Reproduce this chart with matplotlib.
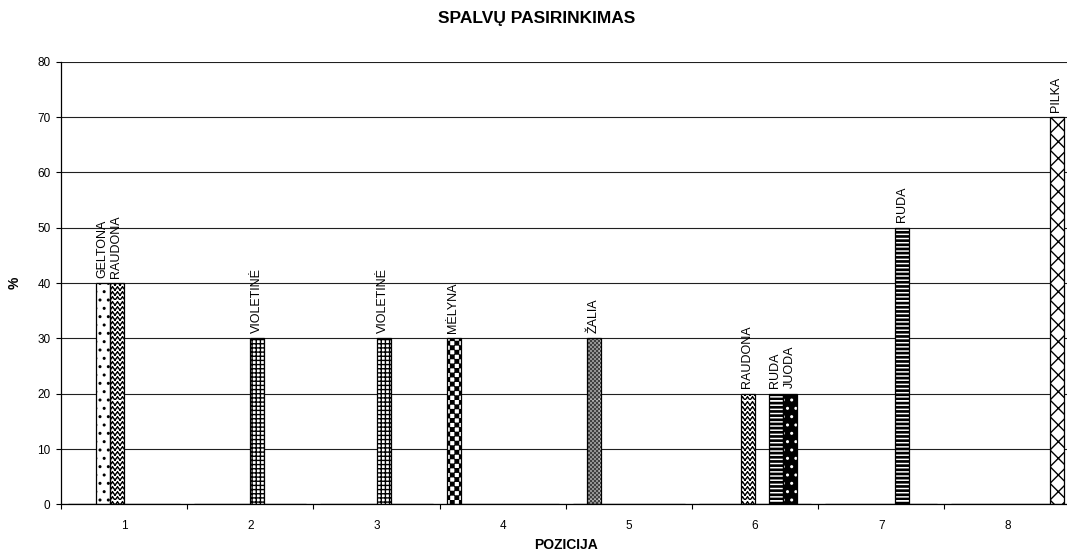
import warnings
import numpy as np
import matplotlib
matplotlib.use("Agg")
import matplotlib.pyplot as plt
import matplotlib.hatch as mhatch
from matplotlib.path import Path

warnings.filterwarnings("ignore")

# ---------------- data ----------------
categories = ["1", "2", "3", "4", "5", "6", "7", "8"]
series_names = ["MĖLYNA", "ŽALIA", "GELTONA", "RAUDONA", "VIOLETINĖ", "RUDA", "JUODA", "PILKA"]
melyna    = [0, 0, 0, 30, 0, 0, 0, 0]
zalia     = [0, 0, 0, 0, 30, 0, 0, 0]
geltona   = [40, 0, 0, 0, 0, 0, 0, 0]
raudona   = [40, 0, 0, 0, 0, 20, 0, 0]
violetine = [0, 30, 30, 0, 0, 0, 0, 0]
ruda      = [0, 0, 0, 0, 0, 20, 50, 0]
juoda     = [0, 0, 0, 0, 0, 20, 0, 0]
pilka     = [0, 0, 0, 0, 0, 0, 0, 70]
series_values = [melyna, zalia, geltona, raudona, violetine, ruda, juoda, pilka]
y_ticks = [0, 10, 20, 30, 40, 50, 60, 70, 80]

title = "SPALVŲ PASIRINKIMAS"
xlabel = "POZICIJA"
ylabel = "%"


# ---------------- custom hatch patterns ----------------
class _Checker(mhatch.HatchPatternBase):
    """Filled checkerboard: 'C' coarse, 'c' fine."""
    def __init__(self, hatch, density):
        if "C" in hatch:
            self.n = 22
        elif "c" in hatch:
            self.n = 50
        else:
            self.n = 0
        self.cells = [(i, j) for i in range(self.n) for j in range(self.n)
                      if (i + j) % 2 == 0]
        self.num_vertices = len(self.cells) * 5

    def set_vertices_and_codes(self, vertices, codes):
        s = 1.0 / self.n
        e = 0.005
        k = 0
        for i, j in self.cells:
            x0, y0 = i * s + e, j * s + e
            x1, y1 = (i + 1) * s - e, (j + 1) * s - e
            vertices[k:k + 5] = [(x0, y0), (x1, y0), (x1, y1), (x0, y1), (x0, y0)]
            codes[k:k + 5] = [Path.MOVETO, Path.LINETO, Path.LINETO,
                              Path.LINETO, Path.CLOSEPOLY]
            k += 5


class _Stripes(mhatch.HatchPatternBase):
    """Thick filled horizontal stripes: 'H'."""
    def __init__(self, hatch, density):
        self.n = 24 if "H" in hatch else 0
        self.num_vertices = self.n * 5

    def set_vertices_and_codes(self, vertices, codes):
        s = 1.0 / self.n
        k = 0
        for j in range(self.n):
            y0 = j * s + 0.004
            y1 = j * s + s * 0.5 - 0.004
            vertices[k:k + 5] = [(0, y0), (1, y0), (1, y1), (0, y1), (0, y0)]
            codes[k:k + 5] = [Path.MOVETO, Path.LINETO, Path.LINETO,
                              Path.LINETO, Path.CLOSEPOLY]
            k += 5


class _Zigzag(mhatch.HatchPatternBase):
    """Zigzag lines: 'Z' (separate segments so nothing is filled)."""
    def __init__(self, hatch, density):
        self.rows = 20 if "Z" in hatch else 0
        self.teeth = 20
        self.num_vertices = self.rows * self.teeth * 2 * 2

    def set_vertices_and_codes(self, vertices, codes):
        dy = 1.0 / self.rows
        dx = 1.0 / self.teeth
        amp = dy * 0.6
        k = 0
        for r in range(self.rows):
            yb = r * dy
            for t in range(self.teeth):
                x0 = t * dx
                pts = [(x0, yb), (x0 + dx / 2, yb + amp),
                       (x0 + dx / 2, yb + amp), (x0 + dx, yb)]
                vertices[k:k + 4] = pts
                codes[k:k + 4] = [Path.MOVETO, Path.LINETO, Path.MOVETO, Path.LINETO]
                k += 4


for _cls in (_Checker, _Stripes, _Zigzag):
    mhatch._hatch_types.append(_cls)

# style per series: (facecolor, hatch, hatchcolor)
styles = {
    "MĖLYNA":    ("white",   "C",    "black"),
    "ŽALIA":     ("#c8c8c8", "c",    "#404040"),
    "GELTONA":   ("white",   "..",   "black"),
    "RAUDONA":   ("white",   "Z",    "black"),
    "VIOLETINĖ": ("white",   "++++", "black"),
    "RUDA":      ("white",   "H",    "black"),
    "JUODA":     ("black",   "..",   "white"),
    "PILKA":     ("white",   "xx",   "black"),
}

# ---------------- figure ----------------
plt.rcParams["font.family"] = ["Liberation Sans", "DejaVu Sans"]
plt.rcParams["hatch.linewidth"] = 1.0

W, H = 1067, 552
fig = plt.figure(figsize=(W / 100, H / 100), dpi=100)
left, right, top, bottom = 61.0, 1070.6, 61.9, 504.3
ax = fig.add_axes([left / W, 1 - bottom / H, (right - left) / W, (bottom - top) / H])

n_series = len(series_names)
bar_w = 1.0 / (n_series + 1)
xc = np.arange(1, len(categories) + 1)

ax.set_axisbelow(True)
ax.yaxis.grid(True, color="#202020", linewidth=0.8)

for k, (name, vals) in enumerate(zip(series_names, series_values)):
    fc, hatch, hc = styles[name]
    xs = xc + (k - (n_series - 1) / 2) * bar_w
    vals = np.asarray(vals, dtype=float)
    # fill + hatch layer
    ax.bar(xs, vals, width=bar_w, color=fc, edgecolor=hc, linewidth=0,
           hatch=hatch, zorder=2)
    # outline layer
    ax.bar(xs, vals, width=bar_w, color="none", edgecolor="black",
           linewidth=0.9, zorder=3)
    for x, v in zip(xs, vals):
        if v > 0:
            ax.annotate(name, (x, v), xytext=(-0.5, 4), textcoords="offset points",
                        rotation=90, ha="center", va="bottom", fontsize=9,
                        zorder=4)

ax.set_xlim(0.5, len(categories) + 0.5)
ax.set_ylim(0, 80)
ax.set_yticks(y_ticks)
ax.set_xticks(xc)
ax.set_xticklabels(categories)
ax.set_xticks(np.arange(0.5, len(categories) + 1, 1.0), minor=True)
ax.tick_params(axis="x", which="major", length=0, pad=11, labelsize=8.5)
ax.tick_params(axis="x", which="minor", length=3.5, width=0.8, direction="out")
ax.tick_params(axis="y", which="major", length=3.5, width=0.8, direction="out",
               pad=4, labelsize=8.5)

for sp in ("top", "right"):
    ax.spines[sp].set_visible(False)
for sp in ("left", "bottom"):
    ax.spines[sp].set_color("black")
    ax.spines[sp].set_linewidth(0.9)

fig.text(537 / W, 1 - 18 / H, title, ha="center", va="center",
         fontsize=12.5, fontweight="bold")
fig.text(566 / W, 1 - 545 / H, xlabel, ha="center", va="center",
         fontsize=10, fontweight="bold")
fig.text(15 / W, 1 - 283 / H, ylabel, ha="center", va="center",
         fontsize=10, fontweight="bold", rotation=90)

fig.savefig("out.png", dpi=100)
